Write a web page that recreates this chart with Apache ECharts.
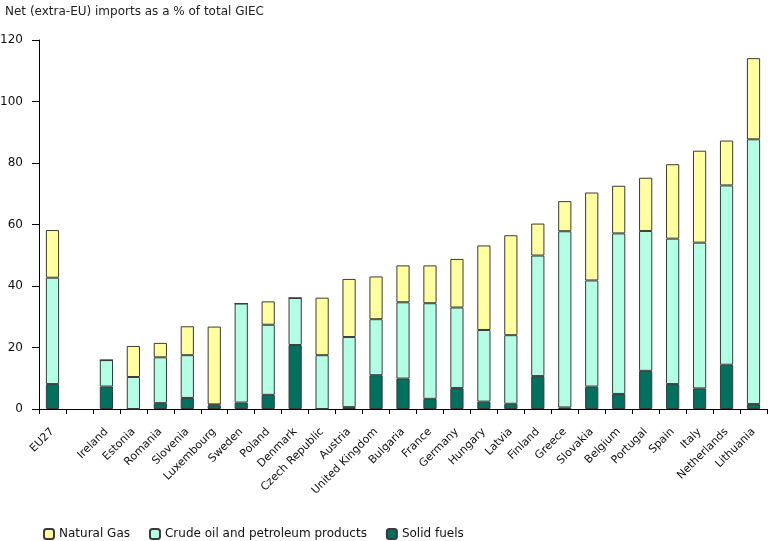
<!DOCTYPE html>
<html>
<head>
<meta charset="utf-8">
<script src="https://cdn.jsdelivr.net/npm/echarts@6/dist/echarts.min.js"></script>
<style>html,body{margin:0;padding:0;background:#fff}#c{width:768px;height:541px}</style>
</head>
<body>
<div id="c"></div>
<script>
const categories = ['EU27','','Ireland','Estonia','Romania','Slovenia','Luxembourg','Sweden','Poland','Denmark','Czech Republic','Austria','United Kingdom','Bulgaria','France','Germany','Hungary','Latvia','Finland','Greece','Slovakia','Belgium','Portugal','Spain','Italy','Netherlands','Lithuania'];
const solidFuels = [8.1,'-',7.3,0,1.9,3.6,1.2,2.1,4.6,20.8,0,0.6,11.0,9.9,3.3,6.8,2.4,1.7,10.7,0.5,7.3,4.9,12.4,8.1,6.7,14.4,1.6];
const crudeOil = [34.6,'-',8.6,10.4,14.9,13.9,0.3,32.2,22.8,15.3,17.5,22.8,18.2,24.8,31.1,26.2,23.3,22.3,39.2,57.3,34.5,52.2,45.5,47.3,47.4,58.3,86.1];
const naturalGas = [15.5,'-',0,10.1,4.7,9.4,25.3,0,7.6,0,18.7,18.9,13.9,12.0,12.3,15.8,27.5,32.5,10.4,9.8,28.6,15.5,17.3,24.2,29.9,14.6,26.4];
const yTicks = {min:0,max:120,interval:20};

const chart = echarts.init(document.getElementById('c'));
const border = {borderColor:'#3a3a3a',borderWidth:1};
const mk = (name, data, color) => ({
  name, type:'bar', stack:'t', data, barWidth:'49%',
  itemStyle:Object.assign({color}, border)
});
chart.setOption({
  animation:false,
  textStyle:{fontFamily:'DejaVu Sans'},
  title:{text:'Net (extra-EU) imports as a % of total GIEC',left:0,top:1,textStyle:{fontSize:12,fontWeight:'normal',color:'#222',fontFamily:'DejaVu Sans'}},
  grid:{left:39,right:1,top:40,bottom:132,containLabel:false,outerBoundsMode:'none'},
  xAxis:{type:'category',data:categories,
    axisLine:{lineStyle:{color:'#000',width:1}},
    axisTick:{show:true,length:5,lineStyle:{color:'#000'}},
    axisLabel:{rotate:45,interval:0,fontSize:11,color:'#111',margin:21}},
  yAxis:{type:'value',min:yTicks.min,max:yTicks.max,interval:yTicks.interval,
    axisLine:{show:true,lineStyle:{color:'#000',width:1}},
    axisTick:{show:true,length:7,lineStyle:{color:'#000'}},
    splitLine:{show:false},
    axisLabel:{fontSize:12,color:'#111',margin:16}},
  legend:{top:523,left:38,itemWidth:10,itemHeight:10,itemGap:19,
    textStyle:{fontSize:12,color:'#111'},
    data:['Natural Gas','Crude oil and petroleum products','Solid fuels']},
  series:[
    mk('Solid fuels', solidFuels, '#00705f'),
    mk('Crude oil and petroleum products', crudeOil, '#b3ffe6'),
    mk('Natural Gas', naturalGas, '#ffffa0')
  ]
});
</script>
</body>
</html>
